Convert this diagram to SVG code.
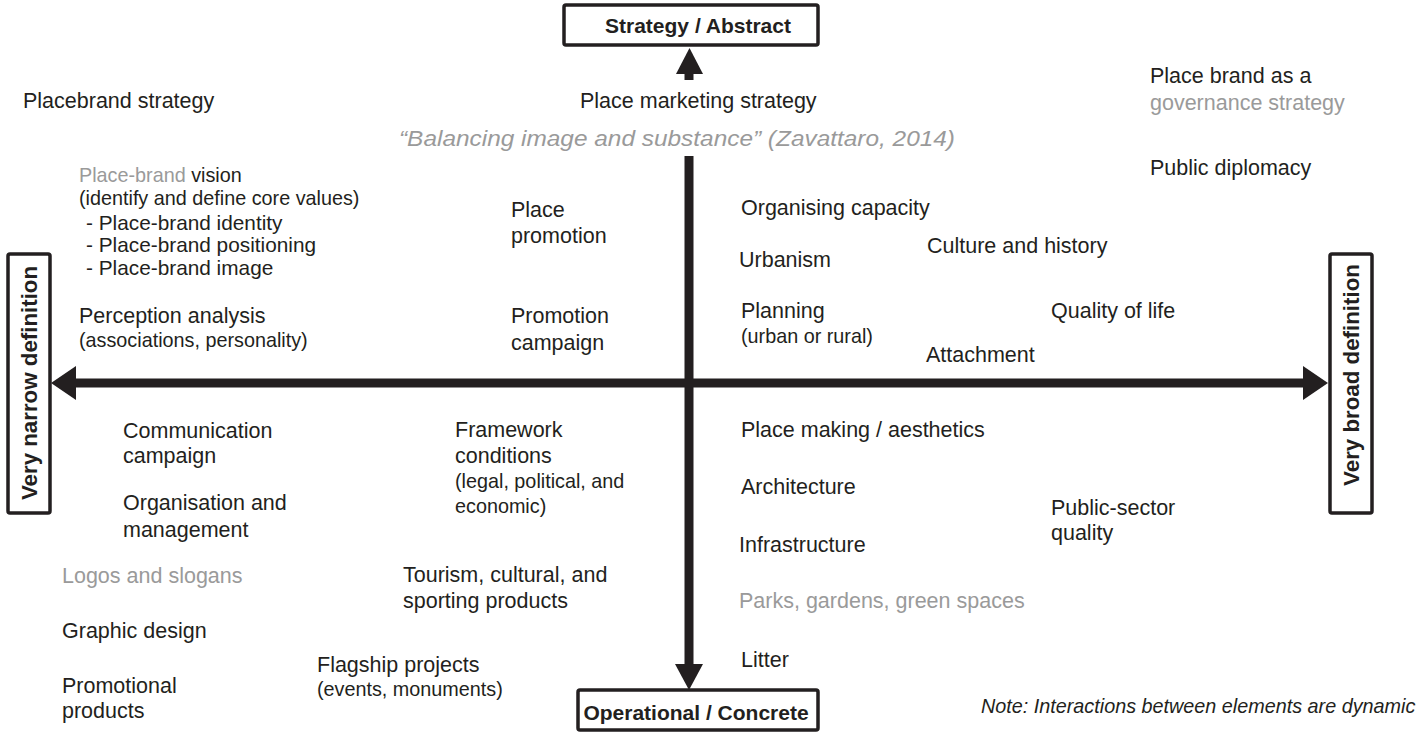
<svg xmlns="http://www.w3.org/2000/svg" width="1416" height="733" viewBox="0 0 1416 733">
<style>
text{font-family:"Liberation Sans",Arial,sans-serif;fill:#231f20;font-size:21.5px}
.s{font-size:19.8px}
.d{font-size:20.8px}
.g{fill:#9a9a9a}
.i{font-style:italic}
.b{font-weight:bold;font-size:21px}
.v{font-weight:bold;font-size:22.3px}
.box{fill:#fff;stroke:#231f20;stroke-width:3.5}
.ax{stroke:#231f20;stroke-width:9;fill:none}
.hd{fill:#231f20}
</style>
<rect width="1416" height="733" fill="#fff"/>
<g id="connectors">
<line class="ax" x1="689" y1="156" x2="689" y2="666"/>
<polygon class="hd" points="675,664 703,664 689,690"/>
<line class="ax" x1="689" y1="70" x2="689" y2="80"/>
<polygon class="hd" points="676,74 703,74 689.5,48"/>
<line class="ax" x1="72" y1="383" x2="1306" y2="383"/>
<polygon class="hd" points="51,383 76,366 76,400"/>
<polygon class="hd" points="1328,383 1303,366 1303,400"/>
</g>
<g id="node-top"><rect class="box" x="564" y="5" width="254" height="40" rx="2"/><text class="b" x="698" y="33" text-anchor="middle">Strategy / Abstract</text></g>
<g id="node-bottom"><rect class="box" x="578" y="690" width="240" height="40" rx="2"/><text class="b" x="696" y="720" text-anchor="middle">Operational / Concrete</text></g>
<g id="node-left"><rect class="box" x="8" y="254" width="42" height="259" rx="2"/><text class="v" transform="translate(37,383) rotate(-90)" text-anchor="middle">Very narrow definition</text></g>
<g id="node-right"><rect class="box" x="1330" y="254" width="42" height="259" rx="2"/><text class="v" transform="translate(1359,375) rotate(-90)" text-anchor="middle">Very broad definition</text></g>
<g id="labels">
<text x="23" y="108">Placebrand strategy</text>
<text x="580" y="108">Place marketing strategy</text>
<text class="i g" x="399" y="146" style="font-size:22.5px" textLength="556" lengthAdjust="spacingAndGlyphs">“Balancing image and substance” (Zavattaro, 2014)</text>
<text x="1150" y="83">Place brand as a</text>
<text class="g" x="1150" y="110">governance strategy</text>
<text x="1150" y="175">Public diplomacy</text>
<text class="s" x="79" y="182"><tspan class="g">Place-brand</tspan> vision</text>
<text class="s" x="79" y="205">(identify and define core values)</text>
<text class="d" x="86" y="230">- Place-brand identity</text>
<text class="d" x="86" y="252">- Place-brand positioning</text>
<text class="d" x="86" y="275">- Place-brand image</text>
<text x="79" y="323">Perception analysis</text>
<text class="s" x="79" y="347">(associations, personality)</text>
<text x="511" y="217">Place</text>
<text x="511" y="243">promotion</text>
<text x="511" y="323">Promotion</text>
<text x="511" y="350">campaign</text>
<text x="741" y="215">Organising capacity</text>
<text x="739" y="267">Urbanism</text>
<text x="927" y="253">Culture and history</text>
<text x="741" y="318">Planning</text>
<text class="s" x="741" y="343">(urban or rural)</text>
<text x="926" y="362">Attachment</text>
<text x="1051" y="318">Quality of life</text>
<text x="123" y="438">Communication</text>
<text x="123" y="463">campaign</text>
<text x="123" y="510">Organisation and</text>
<text x="123" y="537">management</text>
<text class="g" x="62" y="583">Logos and slogans</text>
<text x="62" y="638">Graphic design</text>
<text x="62" y="693">Promotional</text>
<text x="62" y="718">products</text>
<text x="455" y="437">Framework</text>
<text x="455" y="463">conditions</text>
<text class="s" x="455" y="488">(legal, political, and</text>
<text class="s" x="455" y="513">economic)</text>
<text x="403" y="582">Tourism, cultural, and</text>
<text x="403" y="608">sporting products</text>
<text x="317" y="672">Flagship projects</text>
<text class="s" x="317" y="696">(events, monuments)</text>
<text x="741" y="437">Place making / aesthetics</text>
<text x="741" y="494">Architecture</text>
<text x="739" y="552">Infrastructure</text>
<text class="g" x="739" y="608">Parks, gardens, green spaces</text>
<text x="741" y="667">Litter</text>
<text x="1051" y="515">Public-sector</text>
<text x="1051" y="540">quality</text>
<text class="s i" x="981" y="713">Note: Interactions between elements are dynamic</text>
</g>
</svg>
